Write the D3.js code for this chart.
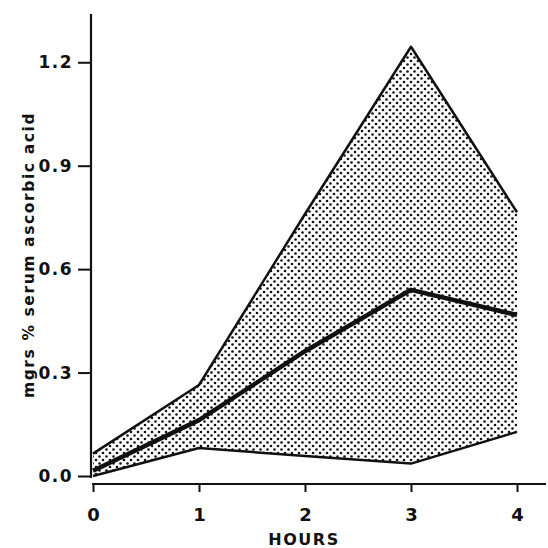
<!DOCTYPE html>
<html>
<head>
<meta charset="utf-8">
<script src="https://cdn.jsdelivr.net/npm/d3@7"></script>
<style>
  body { margin: 0; background: #fff; }
  svg { display: block; }
  text { font-family: "DejaVu Sans", sans-serif; font-weight: bold; fill: #111; }
</style>
</head>
<body>
<div id="chart"></div>
<script>

var hours = [0, 1, 2, 3, 4];
var upperValues = [0.065, 0.264, 0.76, 1.245, 0.765];
var meanValues = [0.015, 0.162, 0.362, 0.540, 0.467];
var lowerValues = [0.0, 0.081, 0.058, 0.036, 0.128];
var yTicks = [0.0, 0.3, 0.6, 0.9, 1.2];
var xTicks = [0, 1, 2, 3, 4];

var width = 548,
    height = 548;

var svg = d3.select("#chart").append("svg")
    .attr("width", width)
    .attr("height", height);

var x = d3.scaleLinear().domain([0, 4]).range([93, 517]);
var y = d3.scaleLinear().domain([0, 1.34]).range([476, 14]);

// stipple pattern
var defs = svg.append("defs");
var pat = defs.append("pattern")
    .attr("id", "dots")
    .attr("patternUnits", "userSpaceOnUse")
    .attr("width", 7)
    .attr("height", 7);
pat.append("circle").attr("cx", 1.5).attr("cy", 1.5).attr("r", 1.3).attr("fill", "#111");
pat.append("circle").attr("cx", 5).attr("cy", 5).attr("r", 1.3).attr("fill", "#111");

var band = hours.map(function(h, i){
    return {h: h, lo: lowerValues[i], hi: upperValues[i]};
});

var area = d3.area()
    .x(function(d){ return x(d.h); })
    .y0(function(d){ return y(d.lo); })
    .y1(function(d){ return y(d.hi); });

svg.append("path")
    .datum(band)
    .attr("d", area)
    .attr("fill", "url(#dots)");

function drawLine(vals, w){
    var line = d3.line()
        .x(function(d, i){ return x(hours[i]); })
        .y(function(d){ return y(d); });
    svg.append("path")
        .datum(vals)
        .attr("d", line)
        .attr("fill", "none")
        .attr("stroke", "#111")
        .attr("stroke-width", w)
        .attr("stroke-linejoin", "round");
}

drawLine(upperValues, 2.5);
drawLine(lowerValues, 2.5);
drawLine(meanValues, 4.5);

// y axis
var yAxis = d3.axisLeft(y)
    .tickValues(yTicks)
    .tickSize(13)
    .tickPadding(5)
    .tickFormat(d3.format(".1f"));

var gy = svg.append("g")
    .attr("transform", "translate(91,0)")
    .call(yAxis);
gy.select(".domain").remove();
gy.selectAll(".tick line").attr("stroke", "#111").attr("stroke-width", 2);
gy.selectAll(".tick text")
    .style("font-size", "17px")
    .style("letter-spacing", "1.5px")
    .attr("fill", "#111");

svg.append("line")
    .attr("x1", 91).attr("x2", 91)
    .attr("y1", y(1.34)).attr("y2", y(0) + 2)
    .attr("stroke", "#111").attr("stroke-width", 2.2);

// x axis
var xAxis = d3.axisBottom(x)
    .tickValues(xTicks)
    .tickSize(8)
    .tickPadding(16)
    .tickFormat(d3.format("d"));

var gx = svg.append("g")
    .attr("transform", "translate(0,484)")
    .call(xAxis);
gx.select(".domain").remove();
gx.selectAll(".tick line").attr("stroke", "#111").attr("stroke-width", 2);
gx.selectAll(".tick text").style("font-size", "18px").attr("fill", "#111");

svg.append("line")
    .attr("x1", 92).attr("x2", 546)
    .attr("y1", 484).attr("y2", 484)
    .attr("stroke", "#111").attr("stroke-width", 2);

svg.append("text")
    .attr("x", 304)
    .attr("y", 545)
    .attr("text-anchor", "middle")
    .style("font-size", "16px")
    .style("letter-spacing", "1.5px")
    .text("HOURS");

svg.append("text")
    .attr("transform", "translate(34,255) rotate(-90)")
    .attr("text-anchor", "middle")
    .style("font-size", "15.5px")
    .style("letter-spacing", "1.6px")
    .text("mgrs % serum ascorbic acid");

</script>
</body>
</html>
